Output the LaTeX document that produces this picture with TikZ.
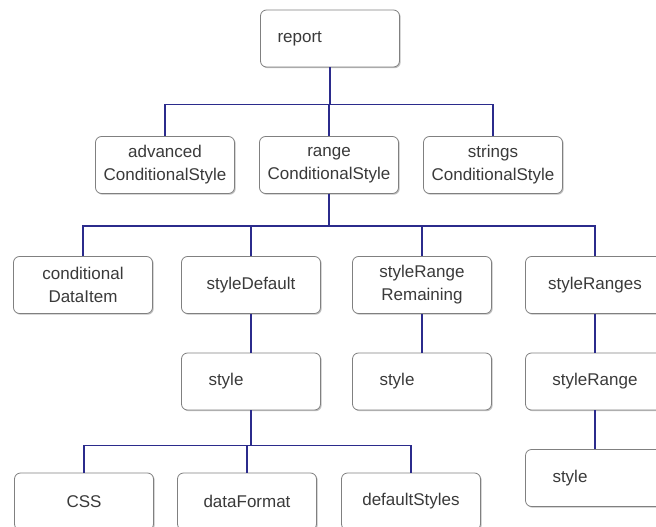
\documentclass[tikz,border=0pt]{standalone}
\usepackage{fontspec}
\setmainfont{Liberation Sans}
\usetikzlibrary{shadows}

\definecolor{linkblue}{HTML}{2B2B8C}
\definecolor{boxgray}{HTML}{808080}
\definecolor{txtgray}{HTML}{3A3A3A}

\begin{document}
\begin{tikzpicture}[x=1pt,y=1pt,
    box/.style={draw=boxgray, line width=0.8pt, fill=white, rounded corners=6pt,
        minimum width=139pt, minimum height=57pt, inner sep=2pt, align=center,
        text=txtgray, font=\fontsize{17}{23}\selectfont,
        drop shadow={shadow xshift=1.2pt, shadow yshift=-1.2pt, fill=black!40, opacity=0.6}},
    leftbox/.style={box, text width=#1, align=left},
    link/.style={draw=linkblue, line width=1.4pt}]
    \useasboundingbox (0,0) rectangle (656,-527);
    \fill[white] (0,0) rectangle (656,-527);
    \clip (0,0) rectangle (656,-527); % boxes on the right and bottom run off the page

    % top and second row
    \node[leftbox=105pt] (report) at (330,-38.5) {report};
    \node[box] (advanced) at (165,-165) {advanced\\ConditionalStyle};
    \node[box] (range) at (329,-165) {range\\ConditionalStyle};
    \node[box] (strings) at (493,-165) {strings\\ConditionalStyle};

    % children of range
    \node[box] (dataitem) at (83,-285) {conditional\\DataItem};
    \node[box] (styledefault) at (251,-285) {styleDefault};
    \node[box] (remaining) at (422,-285) {styleRange\\Remaining};
    \node[box] (styleranges) at (595,-285) {styleRanges};

    \node[leftbox=85pt] (defstyle) at (251,-381.5) {style};
    \node[leftbox=85pt] (remstyle) at (422,-381.5) {style};
    \node[box] (stylerange) at (595,-381.5) {styleRange};
    \node[leftbox=85pt] (rangestyle) at (595,-478) {style};

    \node[box] (css) at (84,-501.5) {CSS};
    \node[box] (dataformat) at (247,-501.5) {dataFormat};
    \node[box] (defaultstyles) at (411,-501.5) {defaultStyles};

    \draw[link] (report.south) -- ++(0,-37) -| (advanced.north);
    \draw[link] (report.south) -- ++(0,-37) -| (range.north);
    \draw[link] (report.south) -- ++(0,-37) -| (strings.north);
    \draw[link] (range.south) -- ++(0,-32) -| (dataitem.north);
    \draw[link] (range.south) -- ++(0,-32) -| (styledefault.north);
    \draw[link] (range.south) -- ++(0,-32) -| (remaining.north);
    \draw[link] (range.south) -- ++(0,-32) -| (styleranges.north);
    \draw[link] (styledefault) -- (defstyle);
    \draw[link] (remaining) -- (remstyle);
    \draw[link] (styleranges) -- (stylerange);
    \draw[link] (stylerange) -- (rangestyle);
    \draw[link] (defstyle.south) -- ++(0,-35) -| (css.north);
    \draw[link] (defstyle.south) -- ++(0,-35) -| (dataformat.north);
    \draw[link] (defstyle.south) -- ++(0,-35) -| (defaultstyles.north);
\end{tikzpicture}
\end{document}
